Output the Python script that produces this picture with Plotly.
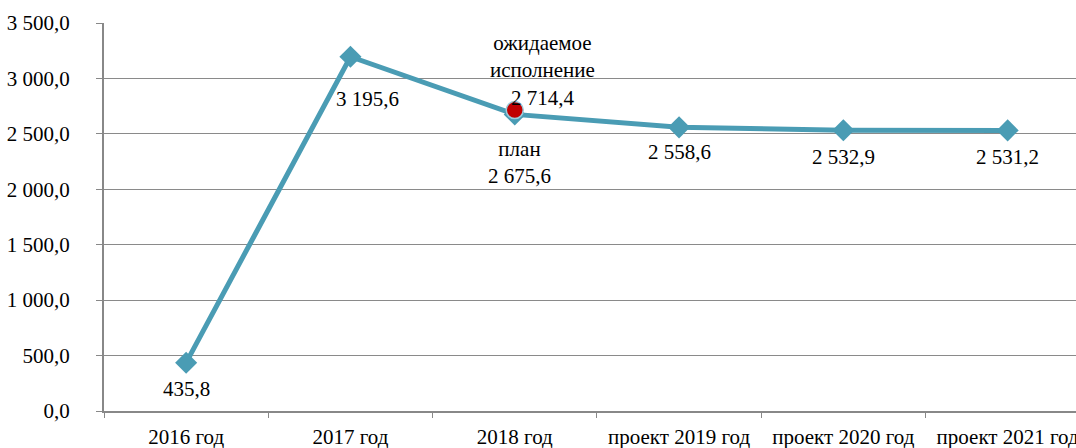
import plotly.graph_objects as go

categories = ["2016 год", "2017 год", "2018 год", "проект 2019 год", "проект 2020 год", "проект 2021 год"]
values = [435.8, 3195.6, 2675.6, 2558.6, 2532.9, 2531.2]
expected_category = "2018 год"
expected_value = 2714.4
y_ticks = [0, 500, 1000, 1500, 2000, 2500, 3000, 3500]
y_tick_labels = ["0,0", "500,0", "1 000,0", "1 500,0", "2 000,0", "2 500,0", "3 000,0", "3 500,0"]
point_labels = ["435,8", "3 195,6", "план<br>2 675,6", "2 558,6", "2 532,9", "2 531,2"]
expected_label = "ожидаемое<br>исполнение<br>2 714,4"

LINE = "#4A9CB4"
FONT = dict(family="Liberation Serif, Times New Roman, serif", size=21, color="#000000")

fig = go.Figure()
fig.add_trace(go.Scatter(
    x=categories, y=values, mode="lines+markers",
    line=dict(color=LINE, width=5),
    marker=dict(symbol="diamond", size=17, color=LINE),
    cliponaxis=False, showlegend=False,
))
fig.add_trace(go.Scatter(
    x=[expected_category], y=[expected_value], mode="markers",
    marker=dict(symbol="circle", size=17, color="#C00000", line=dict(color="#9CCBDA", width=1.5)),
    cliponaxis=False, showlegend=False,
))

shifts = [(0, -26), (17, -42), (5, -48), (0, -25), (0, -27), (0, -27)]
for c, v, t, (dx, dy) in zip(categories, values, point_labels, shifts):
    fig.add_annotation(x=c, y=v, text=t, showarrow=False, xshift=dx, yshift=dy,
                       font=FONT, align="center")
fig.add_annotation(x=expected_category, y=expected_value, text=expected_label, showarrow=False,
                   xshift=28, yshift=40, font=FONT, align="center")

fig.update_layout(
    width=1076, height=448,
    margin=dict(l=104, r=0, t=23, b=37, autoexpand=False),
    paper_bgcolor="white", plot_bgcolor="white",
    font=FONT,
)
fig.update_xaxes(
    type="category", categoryorder="array", categoryarray=categories,
    range=[-0.5, 5.416], automargin=False,
    showline=True, linecolor="#888888", linewidth=2,
    ticks="outside", tickson="boundaries", ticklen=5, tickcolor="#888888", tickwidth=1,
    showgrid=False, tickfont=FONT, ticklabelstandoff=6,
)
fig.update_yaxes(
    range=[0, 3500], tickvals=y_ticks, ticktext=y_tick_labels, automargin=False,
    showline=True, linecolor="#888888", linewidth=2,
    ticks="outside", ticklen=6, tickcolor="#888888",
    showgrid=True, gridcolor="#8A8A8A", gridwidth=1,
    zeroline=False, tickfont=FONT, ticklabelstandoff=22,
)

fig.write_html("out.html", config={"displayModeBar": False},
               post_script="document.body.style.margin='0';document.body.style.overflow='hidden';")
